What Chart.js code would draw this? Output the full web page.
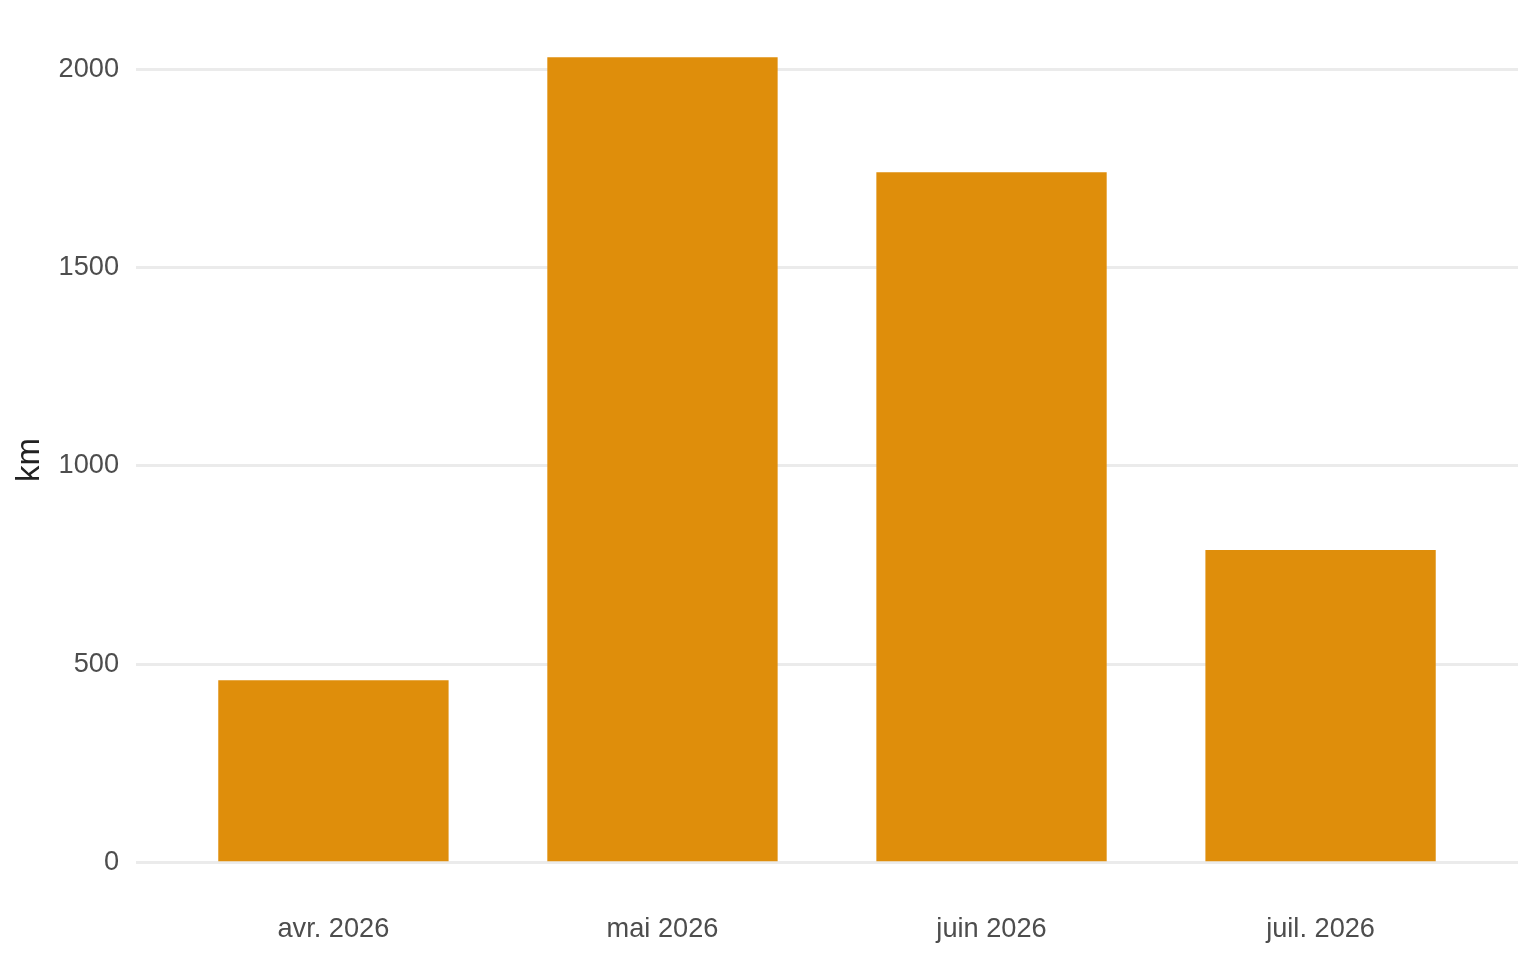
<!DOCTYPE html>
<html>
<head>
<meta charset="utf-8">
<script src="https://cdn.jsdelivr.net/npm/chart.js@4"></script>
<style>
  html, body { margin: 0; padding: 0; background: #fff; }
  #wrap { width: 1536px; height: 960px; }
</style>
</head>
<body>
<div id="wrap"><canvas id="myChart"></canvas></div>
<script>
// data
const months = ['avr. 2026', 'mai 2026', 'juin 2026', 'juil. 2026'];
const km = [460, 2030, 1740, 788];
const yTicks = [0, 500, 1000, 1500, 2000];

const barColor = '#df8e0b';
const gridColor = '#ebebeb';
const textColor = '#4d4d4d';
const font = "'Liberation Sans', Arial, sans-serif";

// ggplot style: 5% expansion on y, 0.6 on a discrete x
const yMax = Math.max(...km);
const yPad = yMax * 0.05;

const ctx = document.getElementById('myChart').getContext('2d');

const config = {
    type: 'bar',
    data: {
        datasets: [{
            data: months.map((m, i) => ({ x: i + 1, y: km[i] })),
            backgroundColor: barColor,
            borderWidth: 0,
            categoryPercentage: 0.7,
            barPercentage: 1.0
        }]
    },
    options: {
        responsive: true,
        maintainAspectRatio: false,
        animation: false,
        layout: { padding: { left: 0, right: 18, top: 17, bottom: 0 } },
        plugins: {
            legend: { display: false },
            tooltip: { enabled: false }
        },
        scales: {
            x: {
                type: 'linear',
                min: 0.4,
                max: months.length + 0.6,
                offset: false,
                grid: { display: false },
                border: { display: false },
                afterBuildTicks: (axis) => { axis.ticks = months.map((m, i) => ({ value: i + 1 })); },
                afterFit: (axis) => { axis.height = 57; },
                ticks: {
                    autoSkip: false,
                    maxRotation: 0,
                    padding: 2,
                    color: textColor,
                    font: { family: font, size: 27.2 },
                    callback: (v) => months[Math.round(v) - 1]
                }
            },
            y: {
                min: -yPad,
                max: yMax + yPad,
                grid: { color: gridColor, lineWidth: 3, drawTicks: false },
                border: { display: false },
                afterBuildTicks: (axis) => { axis.ticks = yTicks.map(v => ({ value: v })); },
                afterFit: (axis) => {
                    axis.width = 136;
                    // no extra room for the end labels, the expansion already covers it
                    axis.paddingTop = 0;
                    axis.paddingBottom = 0;
                },
                ticks: {
                    padding: 17,
                    color: textColor,
                    font: { family: font, size: 27.2 },
                    callback: (v) => String(v)
                },
                title: {
                    display: true,
                    text: 'km',
                    color: '#222',
                    padding: { top: 10, bottom: 0 },
                    font: { family: font, size: 33 }
                }
            }
        }
    }
};

new Chart(ctx, config);
</script>
</body>
</html>
